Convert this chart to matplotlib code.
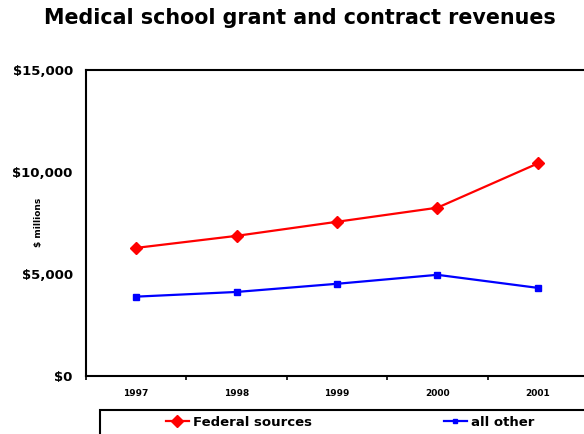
import matplotlib.pyplot as plt
from matplotlib.patches import Rectangle
from matplotlib.lines import Line2D

years = ["1997", "1998", "1999", "2000", "2001"]
federal = [6280, 6870, 7560, 8250, 10420]
all_other = [3890, 4120, 4520, 4960, 4320]
yticks = [0, 5000, 10000, 15000]
ytick_labels = ["$0", "$5,000", "$10,000", "$15,000"]

fig = plt.figure(figsize=(5.84, 4.34), dpi=100)
# plot area runs past the right edge of the figure
ax = fig.add_axes([86/584, 58/434, 502/584, 306/434])

x = list(range(len(years)))
ax.plot(x, federal, color="#ff0000", lw=1.6, marker="D", ms=6.5,
        label="Federal sources", clip_on=False)
ax.plot(x, all_other, color="#0000ff", lw=1.6, marker="s", ms=4,
        label="all other", clip_on=False)

ax.set_xlim(-0.5, 4.5)
ax.set_ylim(0, 15000)
ax.set_xticks(x)
ax.set_xticklabels(years, fontsize=6.5, fontweight="bold")
ax.set_xticks([i - 0.5 for i in range(len(years) + 1)], minor=True)
ax.tick_params(axis="x", which="major", length=0, pad=9)
ax.tick_params(axis="x", which="minor", length=3, width=1.2, direction="out")
ax.set_yticks(yticks)
ax.set_yticklabels(ytick_labels, fontsize=9.5, fontweight="bold")
ax.tick_params(axis="y", length=0, pad=9.5)
for s in ax.spines.values():
    s.set_linewidth(1.5)

fig.text(38/584, 1 - 222/434, "$ millions", rotation=90, fontsize=6.5,
         fontweight="bold", ha="center", va="center")
fig.text(300/584, 1 - 18/434, "Medical school grant and contract revenues",
         fontsize=14.9, fontweight="bold", ha="center", va="center")

# legend frame, cut off at the bottom and right
fig.patches.append(Rectangle((100/584, -0.2), 0.9, 1.2 - 410/434,
                             transform=fig.transFigure, fill=False,
                             edgecolor="black", lw=1.5, clip_on=False))
h1 = Line2D([], [], color="#ff0000", lw=1.6, marker="D", ms=6)
h2 = Line2D([], [], color="#0000ff", lw=1.6, marker="s", ms=3.5)
fig.legend([h1, h2], ["Federal sources", "all other"], ncol=2, frameon=False,
           loc="center left", bbox_to_anchor=(159/584, 1 - 422/434),
           prop={"size": 9.5, "weight": "bold"}, handlelength=1.8,
           handletextpad=0.25, columnspacing=10.0, borderpad=0)

fig.savefig("out.png", dpi=100)
